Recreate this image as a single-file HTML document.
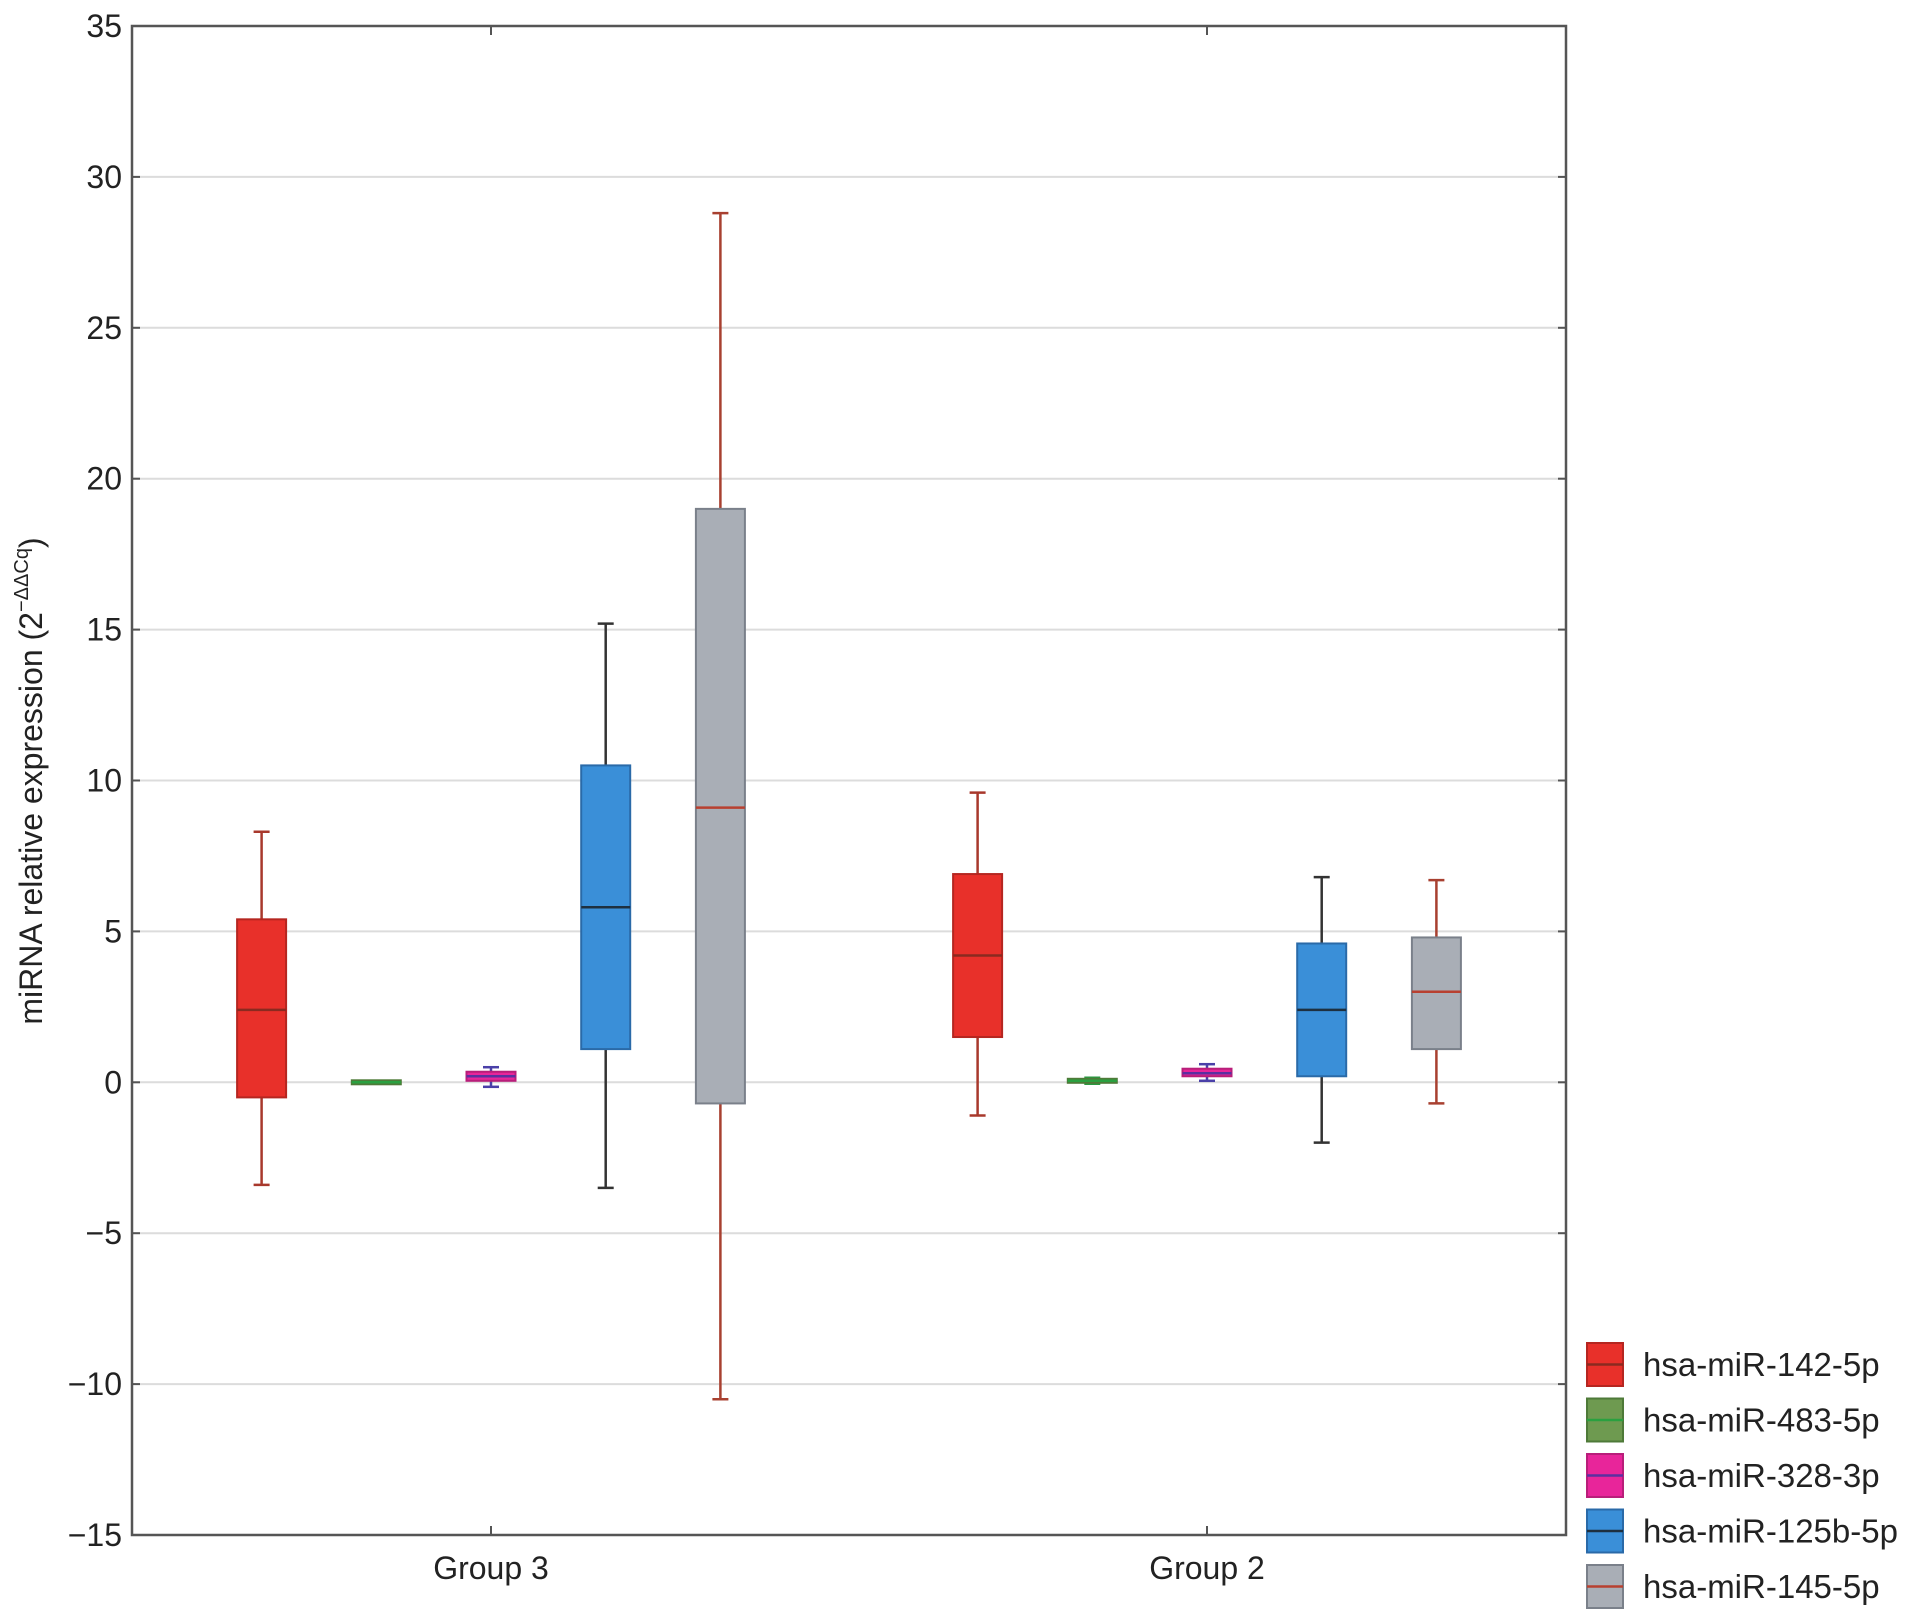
<!DOCTYPE html>
<html><head><meta charset="utf-8"><style>
html,body{margin:0;padding:0;background:#fff;}
svg{display:block;font-family:"Liberation Sans",Arial,sans-serif;}
</style></head><body>
<svg id="chart" width="1913" height="1618" viewBox="0 0 1913 1618" xmlns="http://www.w3.org/2000/svg">
<g id="grid"></g>
<g id="boxes"></g>
<g id="axes"></g>
<text transform="translate(42,781) rotate(-90)" text-anchor="middle" font-size="32" fill="#222">miRNA relative expression (2<tspan font-size="20" dy="-14">−ΔΔCq</tspan><tspan dy="14">)</tspan></text>
<g id="legend"></g>
</svg>
<script>
const groups = ["Group 3", "Group 2"];
const seriesNames = ["hsa-miR-142-5p","hsa-miR-483-5p","hsa-miR-328-3p","hsa-miR-125b-5p","hsa-miR-145-5p"];
const yTicks = [35,30,25,20,15,10,5,0,-5,-10,-15];
const yTickLabels = ["35","30","25","20","15","10","5","0","−5","−10","−15"];
// [min, q1, median, q3, max] per series, per group
const group3Stats = [
  [-3.4,-0.5,2.4,5.4,8.3],
  [-0.05,-0.02,0.0,0.02,0.05],
  [-0.15,0.05,0.2,0.35,0.5],
  [-3.5,1.1,5.8,10.5,15.2],
  [-10.5,-0.7,9.1,19.0,28.8]
];
const group2Stats = [
  [-1.1,1.5,4.2,6.9,9.6],
  [-0.05,0.0,0.05,0.1,0.15],
  [0.05,0.2,0.3,0.45,0.6],
  [-2.0,0.2,2.4,4.6,6.8],
  [-0.7,1.1,3.0,4.8,6.7]
];

const styles = [
  {fill:"#e8302a",stroke:"#b52620",whisk:"#a8382c",med:"#8a2a20"},
  {fill:"#6e9a50",stroke:"#4e7a38",whisk:"#2a9a40",med:"#2aa040"},
  {fill:"#e8259a",stroke:"#b81e7a",whisk:"#4a40a8",med:"#5a30a0"},
  {fill:"#3a8fd8",stroke:"#2a6aa8",whisk:"#333",med:"#1e3040"},
  {fill:"#a9aeb6",stroke:"#7a808a",whisk:"#a84030",med:"#b84030"}
];
const L=132,R=1566,T=26,B=1535,ymax=35,ymin=-15;
const y = v => T + (ymax - v) * (B - T) / (ymax - ymin);
const groupCenters = [491, 1207];
const spacing = 114.7, boxW = 49, capW = 16;
const xPos = (g,s) => groupCenters[g] + (s - 2) * spacing;
const NS="http://www.w3.org/2000/svg";
function mk(tag, attrs, parent){const e=document.createElementNS(NS,tag);for(const k in attrs)e.setAttribute(k,attrs[k]);parent.appendChild(e);return e;}
const grid=document.getElementById('grid'), boxes=document.getElementById('boxes'), axes=document.getElementById('axes'), legend=document.getElementById('legend');

yTicks.forEach((v,i)=>{
  if(v!==ymax && v!==ymin){
    const gl=mk('line',{x1:L,x2:R,y1:y(v),y2:y(v),stroke:"#dcdcdc","stroke-width":2},grid);
    
    
  }
  const tk=mk('line',{x1:L,x2:L+8,y1:y(v),y2:y(v),stroke:"#555","stroke-width":2},axes);
  
  
  const tk2=mk('line',{x1:R-8,x2:R,y1:y(v),y2:y(v),stroke:"#555","stroke-width":2},axes);
  
  
  const t=mk('text',{x:L-10,y:y(v)+11,"text-anchor":"end","font-size":32,fill:"#222"},axes);
  t.textContent=yTickLabels[i];
  
  
});
const frame=mk('rect',{x:L,y:T,width:R-L,height:B-T,fill:"none",stroke:"#555","stroke-width":2.5},axes);


groups.forEach((g,i)=>{
  const cx=groupCenters[i];
  const a=mk('line',{x1:cx,x2:cx,y1:B,y2:B-9,stroke:"#555","stroke-width":2},axes);
  
  
  const b=mk('line',{x1:cx,x2:cx,y1:T,y2:T+9,stroke:"#555","stroke-width":2},axes);
  
  
  const t=mk('text',{x:cx,y:B+44,"text-anchor":"middle","font-size":32,fill:"#222"},axes);
  t.textContent=g;
  
  
});

[group3Stats, group2Stats].forEach((stats,g)=>{
  stats.forEach((d,s)=>{
    const st=styles[s], cx=xPos(g,s);
    const grp=mk('g',{},boxes);
    
    
    mk('line',{x1:cx,x2:cx,y1:y(d[0]),y2:y(d[4]),stroke:st.whisk,"stroke-width":2.5},grp);
    mk('line',{x1:cx-capW/2,x2:cx+capW/2,y1:y(d[0]),y2:y(d[0]),stroke:st.whisk,"stroke-width":2.5},grp);
    mk('line',{x1:cx-capW/2,x2:cx+capW/2,y1:y(d[4]),y2:y(d[4]),stroke:st.whisk,"stroke-width":2.5},grp);
    const h=Math.max(y(d[1])-y(d[3]),4);
    mk('rect',{x:cx-boxW/2,y:(y(d[1])+y(d[3]))/2-h/2,width:boxW,height:h,fill:st.fill,stroke:st.stroke,"stroke-width":2},grp);
    mk('line',{x1:cx-boxW/2,x2:cx+boxW/2,y1:y(d[2]),y2:y(d[2]),stroke:st.med,"stroke-width":2.5},grp);
  });
});

seriesNames.forEach((n,i)=>{
  const st=styles[i], ly=1343+i*55.5;
  const e=mk('g',{},legend);
  
  
  mk('rect',{x:1587,y:ly,width:36,height:43,fill:st.fill,stroke:st.stroke,"stroke-width":2},e);
  mk('line',{x1:1587,x2:1623,y1:ly+21.5,y2:ly+21.5,stroke:st.med,"stroke-width":2.5},e);
  const t=mk('text',{x:1643,y:ly+33,"font-size":33,fill:"#222"},e);
  t.textContent=n;
});
</script>
</body></html>
